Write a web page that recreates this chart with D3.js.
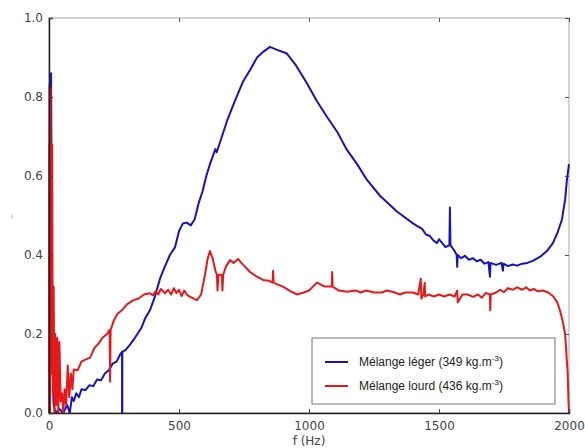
<!DOCTYPE html>
<html>
<head>
<meta charset="utf-8">
<script src="https://cdn.jsdelivr.net/npm/d3@7"></script>
<style>
  body { margin: 0; background: #fff; }
  .tick text { font-family: "DejaVu Sans", sans-serif; font-size: 12px; fill: #444; }
  .legend-text { font-family: "Liberation Sans", Arial, sans-serif; font-size: 12px; fill: #222; }
</style>
</head>
<body>
<div id="chart"></div>
<script>
// Mélange léger (349 kg.m-3) : [f (Hz), value]
const legerData = [
  [0,0.00],[2,0.68],[5,0.30],[8,0.86],[11,0.40],[14,0.10],[18,0.02],[25,0.00],[40,0.01],[55,0.00],
  [70,0.02],[80,0.00],[88,0.04],[95,0.03],[105,0.05],[115,0.04],[125,0.06],[140,0.058],[155,0.07],
  [170,0.068],[185,0.085],[200,0.083],[215,0.10],[230,0.108],[245,0.125],[260,0.13],[275,0.15],
  [281,0.155],[281,0.0],[282,0.0],[282,0.155],[295,0.16],[310,0.172],[325,0.185],[340,0.20],
  [355,0.215],[370,0.24],[388,0.26],[405,0.29],[427,0.34],[445,0.37],[465,0.40],[485,0.42],
  [500,0.46],[515,0.48],[530,0.482],[545,0.475],[560,0.49],[575,0.53],[590,0.56],[605,0.60],
  [619,0.63],[630,0.65],[640,0.668],[645,0.66],[660,0.69],[685,0.74],[715,0.79],[747,0.84],
  [775,0.87],[800,0.90],[825,0.915],[850,0.927],[875,0.92],[915,0.91],[950,0.88],[992,0.835],
  [1030,0.79],[1069,0.75],[1110,0.71],[1146,0.666],[1185,0.63],[1223,0.59],[1273,0.55],
  [1338,0.51],[1400,0.48],[1420,0.472],[1435,0.466],[1450,0.452],[1465,0.448],[1480,0.436],
  [1492,0.43],[1500,0.44],[1510,0.432],[1525,0.42],[1540,0.425],
  [1542,0.52],[1544,0.425],[1560,0.41],[1568,0.40],[1570,0.37],[1572,0.40],[1585,0.392],[1600,0.398],
  [1615,0.388],[1631,0.392],[1645,0.384],[1660,0.388],[1675,0.378],[1690,0.382],[1696,0.345],[1698,0.38],
  [1720,0.375],[1740,0.38],[1746,0.36],[1748,0.378],[1765,0.372],[1785,0.376],[1800,0.373],
  [1820,0.378],[1840,0.38],[1860,0.385],[1888,0.395],[1915,0.41],
  [1938,0.43],[1955,0.455],[1973,0.49],[1985,0.54],[1992,0.59],[2000,0.63]
];

// Mélange lourd (436 kg.m-3)
const lourdData = [
  [0,0.0],[2,0.83],[4,0.0],[6,0.82],[9,0.10],[12,0.68],[15,0.05],[18,0.32],[21,0.0],[24,0.20],
  [28,0.02],[32,0.19],[36,0.0],[40,0.18],[45,0.03],[50,0.05],[55,0.0],[60,0.06],[66,0.02],
  [72,0.12],[78,0.04],[84,0.10],[90,0.06],[95,0.11],[110,0.108],[125,0.13],[140,0.135],
  [158,0.14],[175,0.165],[190,0.175],[205,0.19],[223,0.20],[233,0.21],[235,0.08],[237,0.21],
  [250,0.235],[262,0.25],[280,0.26],[300,0.275],[323,0.285],[345,0.29],[365,0.30],[388,0.303],
  [400,0.298],[410,0.308],[420,0.30],[430,0.314],[446,0.303],[458,0.312],[470,0.3],[480,0.316],
  [490,0.304],[500,0.312],[510,0.296],[520,0.31],[530,0.3],[540,0.295],[550,0.292],[560,0.288],
  [569,0.286],[585,0.30],[600,0.35],[610,0.39],[619,0.41],[630,0.39],[640,0.36],[646,0.35],
  [648,0.31],[652,0.35],[665,0.35],[667,0.31],[670,0.35],[680,0.37],[696,0.387],[710,0.38],
  [727,0.39],[740,0.38],[755,0.37],[773,0.357],[800,0.345],[823,0.337],[845,0.335],[860,0.33],
  [862,0.36],[864,0.33],[880,0.325],[900,0.32],[925,0.31],[954,0.30],[980,0.305],[1000,0.31],
  [1031,0.33],[1060,0.32],[1088,0.32],[1089,0.357],[1091,0.32],[1115,0.31],[1146,0.307],
  [1180,0.31],[1200,0.305],[1220,0.31],[1250,0.305],[1280,0.305],[1300,0.31],[1330,0.305],
  [1350,0.30],[1370,0.305],[1400,0.305],[1420,0.30],[1430,0.34],[1432,0.29],[1440,0.30],
  [1445,0.33],[1447,0.295],[1460,0.30],[1480,0.295],[1500,0.30],[1520,0.295],[1540,0.30],
  [1560,0.295],[1570,0.31],[1572,0.28],[1590,0.30],[1610,0.30],[1631,0.294],[1650,0.30],
  [1665,0.292],[1680,0.304],[1696,0.30],[1697,0.26],[1699,0.30],[1720,0.305],[1735,0.312],
  [1750,0.306],[1765,0.316],[1785,0.312],[1800,0.318],[1820,0.312],[1835,0.318],[1850,0.31],
  [1865,0.314],[1880,0.308],[1900,0.31],[1920,0.305],[1940,0.295],[1955,0.28],
  [1965,0.26],[1975,0.235],[1985,0.20],[1990,0.15],[1995,0.10],[1998,0.03],[2000,0.0]
];

const xTicks = [0, 500, 1000, 1500, 2000];
const yTicks = [0, 0.2, 0.4, 0.6, 0.8, 1.0];
const seriesNames = ["Mélange léger (349 kg.m", "Mélange lourd (436 kg.m"];
const seriesColors = ["#1414c0", "#e81818"];

const width = 585, height = 448;
const margin = { top: 18, right: 16, bottom: 35, left: 49 };

const svg = d3.select("#chart").append("svg")
  .attr("width", width)
  .attr("height", height);

const x = d3.scaleLinear().domain([0, 2000]).range([margin.left, width - margin.right]);
const y = d3.scaleLinear().domain([0, 1]).range([height - margin.bottom, margin.top]);

// frame top/right (light)
svg.append("rect")
  .attr("x", x(0)).attr("y", y(1))
  .attr("width", x(2000) - x(0)).attr("height", y(0) - y(1))
  .attr("fill", "none").attr("stroke", "#c4c4c4").attr("stroke-width", 1.5);

// mirrored ticks on top and right
svg.append("g")
  .attr("transform", `translate(0,${y(1)})`)
  .call(d3.axisTop(x).tickValues(xTicks).tickSize(-4).tickFormat(""))
  .call(g => g.select(".domain").remove())
  .selectAll("line").attr("stroke", "#555");
svg.append("g")
  .attr("transform", `translate(${x(2000)},0)`)
  .call(d3.axisRight(y).tickValues(yTicks).tickSize(-4).tickFormat(""))
  .call(g => g.select(".domain").remove())
  .selectAll("line").attr("stroke", "#555");

const line = d3.line().x(d => x(d[0])).y(d => y(d[1]));

svg.append("path")
  .datum(legerData)
  .attr("fill", "none")
  .attr("stroke", seriesColors[0])
  .attr("stroke-width", 2)
  .attr("stroke-linejoin", "round")
  .attr("d", line);

svg.append("path")
  .datum(lourdData)
  .attr("fill", "none")
  .attr("stroke", seriesColors[1])
  .attr("stroke-width", 2)
  .attr("stroke-linejoin", "round")
  .attr("d", line);

// bottom axis
const xAxis = svg.append("g")
  .attr("transform", `translate(0,${y(0)})`)
  .call(d3.axisBottom(x).tickValues(xTicks).tickSize(-4).tickPadding(8).tickFormat(d3.format("d")));
xAxis.select(".domain").attr("stroke", "#222").attr("stroke-width", 1.5);
xAxis.selectAll(".tick line").attr("stroke", "#444");

// left axis
const yAxis = svg.append("g")
  .attr("transform", `translate(${x(0)},0)`)
  .call(d3.axisLeft(y).tickValues(yTicks).tickSize(-4).tickPadding(6).tickFormat(d3.format(".1f")));
yAxis.select(".domain").attr("stroke", "#222").attr("stroke-width", 1.5);
yAxis.selectAll(".tick line").attr("stroke", "#444");

// x axis title
svg.append("text")
  .attr("x", x(1000))
  .attr("y", height - 3)
  .attr("text-anchor", "middle")
  .style("font-family", "DejaVu Sans, sans-serif")
  .style("font-size", "12px")
  .style("fill", "#444")
  .text("f (Hz)");

// cut-off y label remnant
svg.append("text")
  .attr("x", 11)
  .attr("y", 219)
  .style("font-family", "DejaVu Sans, sans-serif")
  .style("font-size", "8px")
  .style("fill", "#aaa")
  .text("ı");

// legend
const legend = svg.append("g");
legend.append("rect")
  .attr("x", 312).attr("y", 338)
  .attr("width", 243).attr("height", 66)
  .attr("fill", "#fff")
  .attr("stroke", "#777")
  .attr("stroke-width", 1);

seriesNames.forEach((name, i) => {
  const ly = 362 + i * 24;
  legend.append("line")
    .attr("x1", 325).attr("x2", 348)
    .attr("y1", ly).attr("y2", ly)
    .attr("stroke", seriesColors[i])
    .attr("stroke-width", 2);
  const t = legend.append("text")
    .attr("class", "legend-text")
    .attr("x", 359)
    .attr("y", ly + 4);
  t.append("tspan").text(name);
  t.append("tspan").attr("dy", -5).style("font-size", "8px").text("-3");
  t.append("tspan").attr("dy", 5).text(")");
});
</script>
</body>
</html>
